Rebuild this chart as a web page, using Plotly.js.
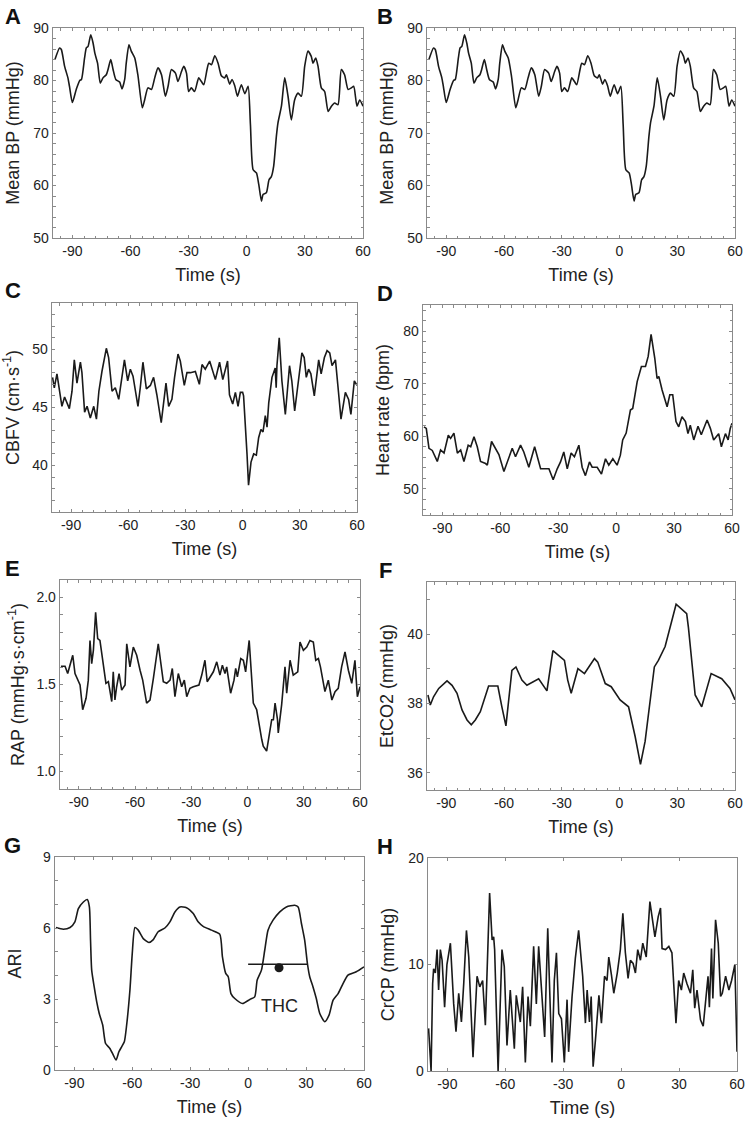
<!DOCTYPE html>
<html>
<head>
<meta charset="utf-8">
<script src="https://cdn.plot.ly/plotly-3.0.1.min.js"></script>
<style>
  html, body { margin: 0; padding: 0; background: #fff; }
  #chart { width: 745px; height: 1122px; }
</style>
</head>
<body>
<div id="chart"></div>
<script>
// ---------------- DATA ----------------
const timeTicks = [-90, -60, -30, 0, 30, 60];
const timeTickText = ["-90", "-60", "-30", "0", "30", "60"];

// Panels A and B: Mean BP (mmHg)
const tBP = [-99,-96.6,-95.7,-94,-92.3,-91.5,-90,-88,-86.2,-85.3,-83.7,-82.8,-81.9,-80.5,-79.3,-78.4,-77,-75.6,-74.2,-72.5,-71.6,-70.2,-69,-67.6,-65.6,-64.4,-63,-62.2,-60.8,-59.6,-57.8,-56.1,-53.9,-52.7,-51,-49.2,-47.5,-45.8,-44,-42,-40.6,-38.9,-36.8,-35.5,-33.7,-32.5,-31.1,-30,-28.6,-26.9,-24.8,-23.4,-22.2,-20.5,-19.6,-18.2,-16.5,-14.8,-13.1,-11.4,-10.5,-8.8,-7.6,-6.2,-4.8,-2.8,-1,0.7,1.9,3.3,5,6.2,7.6,8.4,10.1,11.5,12.7,13.9,15.3,16.1,17.9,19.6,21.3,23,24.7,26.5,28.2,29.9,31.6,33.3,34.2,35.6,36.8,38.5,40.2,42,43.7,45.4,47.1,48.8,50.5,52.3,54,55.2,56.9,58.3,60];
const meanBP = [84,86.2,85.9,82.7,80.5,78.9,75.8,78.3,80,80.2,84.3,86.2,86.5,88.7,87.1,85.2,83.3,79.5,80.5,81.1,82.1,84,82.1,80.2,79.7,78.4,80.2,83.3,86.8,85.6,84.3,80.8,74.8,76.3,78.6,78.3,80.5,82.4,81.1,77,78.9,82.1,81.4,79.8,81.7,82.7,81.4,77.9,78.6,77.9,80.5,79.8,79.2,82.1,83.3,83,84.7,83.3,80.9,80.5,81.1,79.3,80.2,79,77,79.2,77.5,78.9,71.6,63,62.4,60.2,57,58.3,58.6,61.1,61.7,63.7,69.4,71.9,75.1,80.5,77,72.5,76.3,77.6,77,82.7,85.6,84.6,83.3,84.3,82.7,78.6,77.9,74.1,75.1,75.7,75.4,82.1,81.1,78.3,78.6,78.9,75.1,76.3,75.1];

// Panel C: CBFV (cm·s-1)
const tCBFV = [-99.7,-98.8,-97.4,-96.5,-94.8,-93.4,-92.1,-90.9,-89.5,-88.3,-86.9,-85.1,-84.3,-82.9,-81.6,-79.9,-78.1,-76.7,-75.4,-73.8,-71.5,-70.3,-68.5,-66.8,-65,-63.8,-62,-60.3,-58.9,-57.5,-54.9,-53.7,-52.3,-50.5,-48.4,-46.7,-45,-42.7,-41.5,-40.2,-38.8,-37.1,-35.7,-33.9,-32.7,-30.6,-29.2,-27.4,-24.8,-22.7,-21.3,-19.6,-17.3,-14.3,-12.1,-10.4,-7.9,-6.9,-5.2,-3.8,-2.4,-1.2,0,0.5,2.3,3.1,4.4,5.8,7.2,8.4,9.6,10.7,11.9,12.8,13.7,15.4,17.1,17.6,18,19.2,20.6,22.4,24.6,25.8,27.3,29,31.1,32.3,33.4,34.6,35.8,37.6,39.9,41.2,42.9,44.3,45.7,46.9,48.7,49.9,51.6,53.9,55.6,56.8,58.6,60];
const cbfv = [47.6,46.7,47.9,47,45.1,45.9,45.4,44.9,46.4,49.1,47.1,48.9,48,44.6,45.1,44.1,45.1,44,46.4,48.1,50.1,49.3,46.4,46.7,45.7,47,49.1,47.3,48.3,47.7,45.1,46.7,48.9,46.6,46.9,47.6,46.1,43.7,45.3,47.1,45.1,45.7,47.6,49.6,49,46.9,48,48,48.1,47,48.7,48.3,49,47.4,48.9,47.4,49,46.1,45.3,46.3,45.1,46.3,46.3,46,41,38.3,40.3,41,40.9,42.4,43.1,42.9,44.3,43.3,45.4,47.6,48.4,46.7,48.6,51,47.3,44.4,48.6,47.3,44.7,47,49.7,49.3,47.6,48.3,47.9,46,49.1,47.9,49.3,49.9,49.7,48.6,49.1,47,44,46.3,45.7,44.4,47.3,46.9];

// Panel D: Heart rate (bpm)
const tHR = [-99.5,-98.3,-96.9,-95.2,-92.6,-90.9,-89.1,-86.9,-85.7,-84,-82.2,-80.5,-78.8,-76.6,-75.3,-73.6,-71.9,-70.2,-67.6,-66.7,-64.5,-62.4,-60.7,-58.1,-55.9,-53.8,-52.1,-49.5,-47.8,-45.2,-42.2,-40.9,-39.1,-34.8,-32.6,-30.5,-28.8,-27.1,-25.3,-23.3,-21.6,-19.3,-17.6,-15.9,-13.8,-12.4,-9.8,-7.6,-5.5,-3.8,-1.7,0.5,2.2,3.4,5.2,7.4,8.6,10.9,13.1,15.2,16.6,18.1,20,21.2,22.1,23.8,26.4,27.8,29.3,31,32.4,34.1,35.9,37.2,38.4,40.2,42.4,44.1,47.1,48.8,50.5,53.1,54.5,56.6,58,59.1,60];
const heartRate = [61.8,61.5,57.7,57.3,55.2,57.4,56.8,60.2,59.6,60.6,56.8,57.4,55.2,58.3,58,59.9,58,55.2,54.8,54.5,59,57.7,56.5,53.3,55.4,57.7,56.1,58.3,57,54.1,58,56.4,53.8,53.8,51.7,53.8,55.1,57,53.8,56.8,56.1,58.3,54.1,52.5,55.1,54.1,54.1,52.8,55.7,54.5,55.7,54.5,56.4,59.3,60.6,65,65.3,70.4,73.3,73.3,75.2,79.4,74.9,71,71.4,68.8,65.6,67.9,67.9,62.8,61.8,63.7,62.8,60.5,62.1,59.3,61.9,60.3,63.1,61.5,59.3,60.5,58,60.5,59.3,61.5,62.5];

// Panel E: RAP (mmHg·s·cm-1)
const tRAP = [-99.5,-97.3,-95.9,-94.1,-93.2,-92,-89.3,-87.9,-86.1,-84.9,-84,-83.1,-82.2,-81,-79.9,-78.7,-77.2,-75.5,-74.2,-72.4,-71.6,-70.7,-69.8,-68.5,-67.1,-65.3,-64.4,-62.7,-60.9,-59.1,-57.3,-55.9,-53.8,-52,-50.2,-47.6,-44.9,-43.1,-41.3,-40.1,-38.7,-36.9,-35.1,-33.7,-32.4,-30.7,-28.9,-25.9,-24.4,-22.7,-21.5,-18.2,-16.4,-14.7,-13.4,-12,-11.1,-9,-7.2,-6.3,-5.4,-3.6,-2.2,-1,0.1,0.9,3.1,4.9,7.6,8.4,10.2,11.1,12.9,13.8,14.7,16,16.4,18.2,20,20.9,22.7,24.4,26.8,28,29.8,31.6,33.3,35.1,36.4,37.8,38.9,41.3,43.1,45,46.7,48.4,50.2,52,53.8,55.6,57.3,58.6,60];
const rap = [1.605,1.605,1.563,1.63,1.668,1.563,1.497,1.355,1.421,1.525,1.753,1.62,1.696,1.915,1.763,1.753,1.639,1.506,1.516,1.402,1.573,1.411,1.487,1.563,1.468,1.497,1.734,1.601,1.715,1.668,1.582,1.525,1.393,1.411,1.535,1.734,1.516,1.507,1.525,1.592,1.43,1.563,1.487,1.525,1.43,1.478,1.487,1.497,1.554,1.639,1.516,1.573,1.63,1.554,1.611,1.563,1.601,1.45,1.525,1.592,1.544,1.649,1.639,1.573,1.677,1.753,1.393,1.355,1.184,1.146,1.118,1.175,1.298,1.298,1.393,1.298,1.222,1.383,1.601,1.45,1.639,1.554,1.573,1.744,1.696,1.715,1.753,1.744,1.639,1.649,1.601,1.459,1.525,1.411,1.459,1.478,1.601,1.687,1.582,1.507,1.639,1.43,1.487];

// Panel F: EtCO2 (mmHg)
const tCO2 = [-99.5,-98.3,-96.6,-93.9,-89.6,-87,-84.4,-81.8,-79.2,-77,-74.9,-72.3,-68,-63.2,-61.1,-59,-55.9,-53.8,-50.7,-48.1,-42,-39.4,-37.7,-34.6,-31.7,-28.6,-26.9,-25.1,-21.6,-18.2,-13,-11.3,-7.4,-4.3,0.3,4.7,8.1,10.9,13.3,18.1,20.2,23.7,29.4,34.9,35.8,39.3,42.7,47.6,53.1,57.4,60];
const etco2 = [38.24,37.95,38.19,38.43,38.65,38.52,38.29,37.81,37.52,37.38,37.52,37.76,38.5,38.5,37.9,37.35,38.95,39.05,38.67,38.52,38.71,38.48,38.36,39.52,39.38,39.24,38.67,38.29,39,38.86,39.29,39.19,38.57,38.48,38.1,37.9,37.05,36.24,36.9,39.05,39.24,39.64,40.86,40.59,40.19,38.24,37.9,38.86,38.71,38.43,38.1];

// Panel G: ARI
const tARI = [-99.5,-95.7,-92.2,-89.7,-87.9,-85.3,-83.3,-82.2,-81.6,-81,-79.7,-78.4,-77.1,-75.3,-73.8,-71.6,-69.8,-68.4,-66.9,-65.5,-64.1,-62.9,-61.2,-60,-58.6,-56.9,-54.3,-51.4,-49.1,-46.6,-43.1,-40.5,-37.9,-35.3,-31.9,-28.4,-25.9,-23.3,-19,-14.7,-13.3,-11.6,-10.3,-8.9,-6.9,-2.9,0.9,3.4,4.7,6.9,8.6,10.3,12.9,16.4,19.8,24.1,25.9,27.6,29.3,30.7,31.9,33.6,35.3,37.1,39.7,41.9,44,46.6,49.2,51.7,56,60];
const ari = [6.02,5.95,6.02,6.26,6.82,7.1,7.2,6.89,5.48,4.22,3.51,2.88,2.39,1.9,1.12,0.91,0.63,0.42,0.77,0.98,1.19,1.9,3.38,4.92,6.02,5.91,5.55,5.39,5.51,5.84,6.0,6.26,6.68,6.89,6.86,6.61,6.26,6.07,5.91,5.74,4.78,4.08,3.94,3.23,3.02,2.81,2.98,3.09,3.8,4.22,5.06,5.91,6.33,6.68,6.89,6.96,6.89,6.19,5.48,4.5,3.94,3.51,3.02,2.39,2.04,2.32,2.95,3.23,3.66,4.01,4.15,4.36];
const thcRange = [0, 31];
const thcLevel = 4.47;
const thcTime = [16];
const thcValue = [4.32];
const thcLabel = "THC";

// Panel H: CrCP (mmHg)
const tCrCP = [-99.7,-98.4,-97.6,-97.1,-96.2,-95.3,-94.5,-93.6,-92.7,-91.4,-90.2,-88.4,-86.7,-85.5,-84.1,-82.7,-81.5,-80.1,-78.9,-76.7,-74.6,-73.2,-71.7,-70.3,-68.1,-66.8,-66,-65.5,-63.7,-61.7,-60.5,-59.1,-57.4,-55.3,-54.3,-52.2,-51,-49.6,-48.2,-47,-45.3,-43.9,-42.7,-41,-39.6,-38,-37,-35.8,-34.6,-33.5,-32.3,-30.9,-29.4,-28,-27.2,-25.4,-23.7,-22,-19.9,-18.5,-17.6,-16.4,-15.5,-14.5,-13.3,-11.5,-10.2,-8.6,-7.3,-6.4,-5,-3.8,-2,-0.4,0.9,2.2,3.6,4.8,6.2,7.4,8.6,10,11.2,13,14.9,16.1,17.5,19.2,20.4,21.2,23,24.7,26.3,28.4,29.8,31.2,32.4,34.1,35.9,37.1,38.1,39.3,41.1,42.5,43.7,45,45.7,46.8,47.5,48.9,50.3,51.5,52.4,54.1,55.8,57.2,58.9,60];
const crcp = [4,0,8.2,9.6,9.2,11.4,7.6,11.4,10.4,6,10,12,6.3,3.7,7.3,4.6,8.2,13.2,10.7,1.3,8.9,7.9,8.5,4.3,16.7,12.3,12.6,11.4,0,11.4,9.8,2.4,7.6,2.1,7.1,4.6,7.9,0.8,7,4.2,11.7,6.3,11.7,7.3,3.2,13.4,7.9,0.8,8.5,11.1,5.4,4.9,0.8,6.7,1.8,7,10.6,13.2,8.9,4.5,7.6,4.6,7,0.4,2.9,7.1,4.5,8.9,8.5,10.7,9,7.3,9.2,11.4,14.8,11.1,8.7,10.4,10.1,9.2,11.4,10.4,12,10.7,15.9,14.5,12.6,14.5,15.3,11.5,11.4,11.7,11.1,4.5,8.5,7.6,9.2,8.2,7.3,9.5,5.9,7.6,4.8,4.2,6.7,8.9,6,11.5,6.8,14.2,12,7,7.3,8.9,7.6,8.5,10,1.8];

// ---------------- LAYOUT HELPERS ----------------
const W = 745, H = 1122;
const FONT = "Liberation Sans, Arial, Helvetica, sans-serif";
const FRAME = "#8a8a8a";
const LINE = "#1a1a1a";
const px2x = p => p / W;
const px2y = p => 1 - p / H;

function xAxis(box, minorDtick) {
  const ax = {
    domain: [px2x(box[0]), px2x(box[1])],
    range: [-100, 60],
    tickmode: "array",
    tickvals: timeTicks,
    ticktext: timeTickText,
    ticks: "inside", ticklen: 3, tickcolor: FRAME, tickwidth: 1,
    showline: true, linecolor: FRAME, linewidth: 1.3, mirror: "ticks",
    showgrid: false, zeroline: false,
    tickfont: { family: FONT, size: 14, color: "#222" },
    title: { text: "Time (s)", font: { family: FONT, size: 18, color: "#222" }, standoff: 10 },
    fixedrange: true
  };
  if (minorDtick) ax.minor = { dtick: minorDtick, tick0: 0, ticks: "inside", ticklen: 2.5, tickcolor: FRAME, showgrid: false };
  return ax;
}
function yAxis(box, range, tickvals, ticktext, title, minorDtick, standoff) {
  const ax = {
    domain: [px2y(box[3]), px2y(box[2])],
    range: range,
    tickmode: "array",
    tickvals: tickvals,
    ticktext: ticktext || tickvals.map(String),
    ticks: "inside", ticklen: 3, tickcolor: FRAME, tickwidth: 1,
    showline: true, linecolor: FRAME, linewidth: 1.3, mirror: "ticks",
    showgrid: false, zeroline: false,
    tickfont: { family: FONT, size: 14, color: "#222" },
    title: { text: title, font: { family: FONT, size: 18, color: "#222" }, standoff: standoff },
    fixedrange: true
  };
  if (minorDtick) ax.minor = { dtick: minorDtick, ticks: "inside", ticklen: 2.5, tickcolor: FRAME, showgrid: false };
  return ax;
}

// plot boxes in pixels: [left, right, top, bottom]
const boxes = {
  A: [53, 363, 28, 238],
  B: [427, 735, 28, 238],
  C: [52, 357, 303, 512],
  D: [423, 732, 305, 515],
  E: [60, 360, 580, 789],
  F: [427, 735, 582, 790],
  G: [55, 364, 857, 1070],
  H: [428, 737, 858, 1071]
};

const line = { color: LINE, width: 1.6 };
const smooth = { color: LINE, width: 1.6, shape: "spline", smoothing: 0.6 };
const traces = [
  { x: tBP, y: meanBP, xaxis: "x", yaxis: "y", mode: "lines", line: smooth, name: "Mean BP" },
  { x: tBP, y: meanBP, xaxis: "x2", yaxis: "y2", mode: "lines", line: smooth, name: "Mean BP" },
  { x: tCBFV, y: cbfv, xaxis: "x3", yaxis: "y3", mode: "lines", line: line, name: "CBFV" },
  { x: tHR, y: heartRate, xaxis: "x4", yaxis: "y4", mode: "lines", line: line, name: "Heart rate" },
  { x: tRAP, y: rap, xaxis: "x5", yaxis: "y5", mode: "lines", line: line, name: "RAP" },
  { x: tCO2, y: etco2, xaxis: "x6", yaxis: "y6", mode: "lines", line: line, name: "EtCO2" },
  { x: tARI, y: ari, xaxis: "x7", yaxis: "y7", mode: "lines", line: smooth, name: "ARI" },
  { x: thcRange, y: [thcLevel, thcLevel], xaxis: "x7", yaxis: "y7", mode: "lines", line: { color: LINE, width: 1.6 }, name: "THC range" },
  { x: thcTime, y: thcValue, xaxis: "x7", yaxis: "y7", mode: "markers", marker: { color: LINE, size: 9, symbol: "circle" }, name: "THC" },
  { x: tCrCP, y: crcp, xaxis: "x8", yaxis: "y8", mode: "lines", line: line, name: "CrCP" }
];

const layout = {
  width: W, height: H,
  margin: { l: 0, r: 0, t: 0, b: 0 },
  paper_bgcolor: "#fff", plot_bgcolor: "#fff",
  showlegend: false,
  font: { family: FONT, color: "#222" },
  xaxis: Object.assign(xAxis(boxes.A, 6), { anchor: "y" }),
  yaxis: Object.assign(yAxis(boxes.A, [50, 90], [50, 60, 70, 80, 90], null, "Mean BP (mmHg)", 2, 9), { anchor: "x" }),
  xaxis2: Object.assign(xAxis(boxes.B, 6), { anchor: "y2" }),
  yaxis2: Object.assign(yAxis(boxes.B, [50, 90], [50, 60, 70, 80, 90], null, "Mean BP (mmHg)", 2, 9), { anchor: "x2" }),
  xaxis3: Object.assign(xAxis(boxes.C, 6), { anchor: "y3" }),
  yaxis3: Object.assign(yAxis(boxes.C, [36, 54], [40, 45, 50], null, "CBFV (cm·s<sup>-1</sup>)", 1, 9), { anchor: "x3" }),
  xaxis4: Object.assign(xAxis(boxes.D, 6), { anchor: "y4" }),
  yaxis4: Object.assign(yAxis(boxes.D, [45, 85], [50, 60, 70, 80], null, "Heart rate (bpm)", 2, 9), { anchor: "x4" }),
  xaxis5: Object.assign(xAxis(boxes.E, 6), { anchor: "y5" }),
  yaxis5: Object.assign(yAxis(boxes.E, [0.9, 2.1], [1.0, 1.5, 2.0], ["1.0", "1.5", "2.0"], "RAP (mmHg·s·cm<sup>-1</sup>)", 0.1, 7), { anchor: "x5" }),
  xaxis6: Object.assign(xAxis(boxes.F, 6), { anchor: "y6" }),
  yaxis6: Object.assign(yAxis(boxes.F, [35.5, 41.5], [36, 38, 40], null, "EtCO2 (mmHg)", 1, 9), { anchor: "x6" }),
  xaxis7: Object.assign(xAxis(boxes.G, 10), { anchor: "y7" }),
  yaxis7: Object.assign(yAxis(boxes.G, [0, 9], [0, 3, 6, 9], null, "ARI", 1, 16), { anchor: "x7" }),
  xaxis8: Object.assign(xAxis(boxes.H, null), { anchor: "y8" }),
  yaxis8: Object.assign(yAxis(boxes.H, [0, 20], [0, 10, 20], null, "CrCP (mmHg)", null, 9), { anchor: "x8" }),
  annotations: [
    ...["A", "B", "C", "D", "E", "F", "G", "H"].map((lab, i) => {
      const b = boxes[lab];
      const lx = (i % 2 === 0) ? 13 : 385;
      return {
        text: "<b>" + lab + "</b>", xref: "paper", yref: "paper",
        x: px2x(lx), y: px2y(b[2] - 12), xanchor: "center", yanchor: "middle",
        showarrow: false, font: { family: FONT, size: 22, color: "#111" }
      };
    }),
    { text: thcLabel, xref: "x7", yref: "y7", x: thcTime[0], y: 2.7, xanchor: "center", yanchor: "middle",
      showarrow: false, font: { family: FONT, size: 18, color: "#222" } }
  ]
};

Plotly.newPlot("chart", traces, layout, { staticPlot: true, displayModeBar: false });
</script>
</body>
</html>
